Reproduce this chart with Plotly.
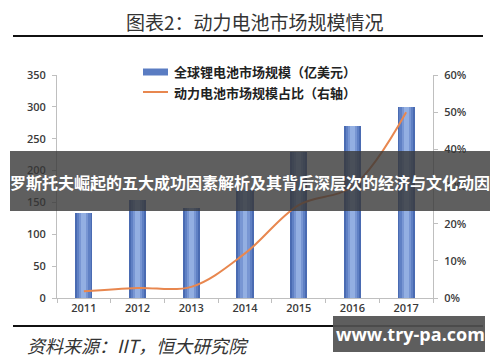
import plotly.graph_objects as go

years = ["2011", "2012", "2013", "2014", "2015", "2016", "2017"]
market_size = [134, 154, 141, 170, 229, 270, 300]          # 亿美元
power_share = [0.018, 0.027, 0.03, 0.12, 0.25, 0.30, 0.50]  # 占比
left_ticks = [0, 50, 100, 150, 200, 250, 300, 350]
right_ticks = [0, 0.1, 0.2, 0.3, 0.4, 0.5, 0.6]

W, H = 500, 362
L, R, T, B = 57, 433, 75, 298


def xp(px):
    return (px - L) / (R - L)


def yp(py):
    return (B - py) / (B - T)


CJK = "Noto Sans CJK SC"
fig = go.Figure()

layers = [(0.32, "#4a6bb2"), (0.25, "#5f80c4"), (0.17, "#7896d3"), (0.09, "#93afe2")]
for i, (w, c) in enumerate(layers):
    fig.add_trace(go.Bar(
        x=years, y=market_size, width=w, marker=dict(color=c, line=dict(width=0)),
        name="全球锂电池市场规模（亿美元）", showlegend=False, yaxis="y",
        hoverinfo="skip" if i else None,
    ))

fig.add_trace(go.Scatter(
    x=years, y=power_share, mode="lines", yaxis="y2",
    line=dict(color="#e8874f", width=2, shape="spline", smoothing=1.0),
    name="动力电池市场规模占比（右轴）", showlegend=False,
))

tickfont = dict(family="Open Sans", size=11, color="#3a3a3a", weight=600)
fig.update_layout(
    width=W, height=H,
    margin=dict(l=L, r=W - R, t=T, b=H - B),
    paper_bgcolor="white", plot_bgcolor="white",
    barmode="overlay", bargap=0,
    xaxis=dict(type="category", showgrid=False, showline=True, linecolor="#bfbfbf",
               linewidth=1, ticks="outside", tickson="boundaries", ticklen=4,
               tickcolor="#bfbfbf", tickfont=tickfont, range=[-0.5, 6.5]),
    yaxis=dict(range=[0, 350], tickvals=left_ticks, showgrid=False, showline=True,
               linecolor="#bfbfbf", ticks="outside", ticklen=4, tickcolor="#bfbfbf",
               tickfont=tickfont, zeroline=False, ticklabelstandoff=4),
    yaxis2=dict(range=[0, 0.6], tickvals=right_ticks, tickformat=".0%", overlaying="y",
                side="right", showgrid=False, showline=True, linecolor="#bfbfbf",
                ticks="outside", ticklen=4, tickcolor="#bfbfbf", tickfont=tickfont,
                zeroline=False, ticklabelstandoff=4),
)

shapes = []
ann = []
# title and rules
ann.append(dict(text="图表2：动力电池市场规模情况", x=xp(255), y=yp(22), xref="paper", yref="paper",
                showarrow=False, font=dict(family=CJK, size=19, color="#333333"),
                xanchor="center", yanchor="middle"))
shapes.append(dict(type="line", xref="paper", yref="paper", x0=xp(13), x1=xp(483),
                   y0=yp(36), y1=yp(36), line=dict(color="#111111", width=2.2)))
shapes.append(dict(type="line", xref="paper", yref="paper", x0=xp(13), x1=xp(483),
                   y0=yp(326), y1=yp(326), line=dict(color="#111111", width=2.2)))
# legend
shapes.append(dict(type="rect", xref="paper", yref="paper", x0=xp(143), x1=xp(168),
                   y0=yp(75.5), y1=yp(68.5), fillcolor="#5a7cc2", line=dict(width=0)))
shapes.append(dict(type="line", xref="paper", yref="paper", x0=xp(143), x1=xp(168),
                   y0=yp(92), y1=yp(92), line=dict(color="#e8874f", width=2)))
ann.append(dict(text="全球锂电池市场规模（亿美元）", x=xp(172), y=yp(72), xref="paper", yref="paper",
                showarrow=False, xanchor="left", yanchor="middle",
                font=dict(family=CJK, size=13, color="#222222", weight=700)))
ann.append(dict(text="动力电池市场规模占比（右轴）", x=xp(172), y=yp(92), xref="paper", yref="paper",
                showarrow=False, xanchor="left", yanchor="middle",
                font=dict(family=CJK, size=13, color="#222222", weight=700)))
# source
ann.append(dict(text="<i>资料来源：IIT，恒大研究院</i>", x=xp(25), y=yp(345), xref="paper", yref="paper",
                showarrow=False, xanchor="left", yanchor="middle",
                font=dict(family=CJK, size=18, color="#333333")))
# overlay band
shapes.append(dict(type="rect", xref="paper", yref="paper", x0=xp(10), x1=xp(490),
                   y0=yp(211), y1=yp(151), fillcolor="rgba(55,55,55,0.8)", line=dict(width=0),
                   layer="above"))
ann.append(dict(text="罗斯托夫崛起的五大成功因素解析及其背后深层次的经济与文化动因",
                x=xp(250), y=yp(182), xref="paper", yref="paper", showarrow=False,
                xanchor="center", yanchor="middle",
                font=dict(family=CJK, size=16, color="white", weight=700)))
# watermark box
shapes.append(dict(type="rect", xref="paper", yref="paper", x0=xp(333), x1=xp(485),
                   y0=yp(352), y1=yp(316), fillcolor="rgba(80,80,80,0.92)", line=dict(width=0),
                   layer="above"))
ann.append(dict(text="<b>www.try-pa.com</b>", x=xp(410), y=yp(334), xref="paper", yref="paper",
                showarrow=False, xanchor="center", yanchor="middle",
                font=dict(family="Open Sans", size=18, color="white")))

fig.update_layout(shapes=shapes, annotations=ann)
fig.write_html("out.html")
